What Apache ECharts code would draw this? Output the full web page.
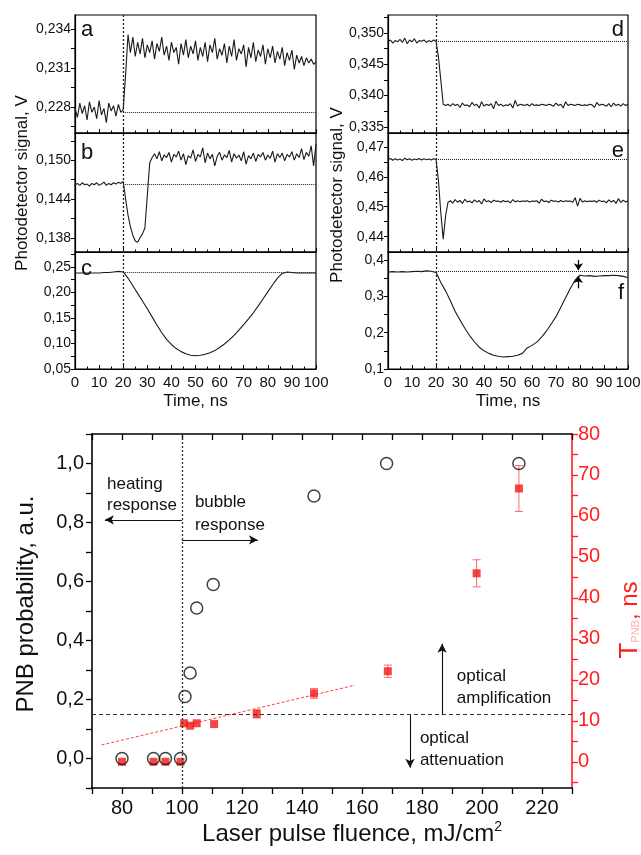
<!DOCTYPE html>
<html><head><meta charset="utf-8">
<script src="https://cdn.jsdelivr.net/npm/echarts@6/dist/echarts.min.js"></script>
<style>html,body{margin:0;padding:0;background:#fff}#c{width:641px;height:855px}</style>
</head><body><div id="c"></div><script>
// ---------- DATA ----------
const noisyStep = 1;   // ns between samples of traces a, b, d, e
const smoothStep = 2;  // ns between samples of traces c, f
const traceA = [0.2279,0.2272,0.2283,0.2275,0.2281,0.2270,0.2284,0.2276,0.2280,0.2271,0.2285,0.2274,0.2279,0.2268,0.2283,0.2277,0.2281,0.2273,0.2282,0.2276,
0.2278,0.2305,0.2336,
0.2322,0.2334,0.2319,0.2330,0.2321,0.2333,0.2318,0.2328,0.2322,0.2331,0.2317,0.2329,0.2323,0.2334,0.2320,0.2327,0.2316,0.2330,
0.2322,0.2326,0.2313,0.2329,0.2320,0.2332,0.2318,0.2327,0.2321,0.2331,0.2316,0.2326,0.2319,0.2330,0.2315,0.2328,0.2322,0.2333,0.2317,0.2325,
0.2320,0.2329,0.2314,0.2327,0.2319,0.2332,0.2316,0.2325,0.2321,0.2328,0.2311,0.2326,0.2318,0.2330,0.2315,0.2324,0.2319,0.2328,0.2313,0.2325,
0.2318,0.2327,0.2314,0.2323,0.2317,0.2326,0.2312,0.2322,0.2316,0.2324,0.2309,0.2320,0.2314,0.2319,0.2312,0.2318,0.2314,0.2317,0.2313,0.2315];
const traceB = [0.1462,0.1464,0.1461,0.1465,0.1462,0.1463,0.1460,0.1464,0.1462,0.1465,0.1461,0.1463,0.1466,0.1461,0.1464,0.1462,0.1465,0.1463,0.1466,0.1464,
0.1467,0.1440,0.1415,0.1397,0.1384,0.1375,0.1373,0.1380,0.1386,0.1395,0.1445,0.1496,0.1504,
0.1510,0.1502,0.1513,0.1499,0.1508,0.1504,0.1512,0.1497,0.1509,0.1505,0.1514,0.1500,0.1510,0.1493,0.1507,0.1503,0.1516,0.1498,0.1509,0.1505,
0.1519,0.1496,0.1511,0.1502,0.1509,0.1491,0.1506,0.1512,0.1500,0.1508,0.1504,0.1515,0.1497,0.1510,0.1503,0.1508,0.1499,0.1513,0.1494,0.1507,
0.1502,0.1511,0.1498,0.1509,0.1505,0.1512,0.1500,0.1508,0.1503,0.1514,0.1497,0.1510,0.1504,0.1511,0.1499,0.1509,0.1505,0.1513,0.1500,0.1510,
0.1504,0.1518,0.1501,0.1512,0.1506,0.1522,0.1491,0.1525];
const traceC = [0.238,0.238,0.238,0.238,0.238,0.238,0.239,0.239,0.240,0.241,0.240,0.228,0.213,0.198,0.183,0.168,0.152,0.136,0.121,0.108,
0.098,0.090,0.084,0.080,0.077,0.076,0.077,0.079,0.082,0.086,0.092,0.099,0.107,0.116,0.126,0.137,0.148,0.160,0.173,0.187,
0.201,0.215,0.228,0.237,0.240,0.239,0.238,0.238,0.238,0.238,0.238];
const traceD = [0.3486,0.3489,0.3484,0.3488,0.3486,0.3490,0.3485,0.3492,0.3483,0.3489,0.3486,0.3491,0.3484,0.3488,0.3487,0.3489,0.3485,0.3488,0.3486,0.3489,
0.3487,0.3462,0.3425,0.3386,
0.3384,0.3386,0.3383,0.3387,0.3384,0.3386,0.3381,0.3388,0.3384,0.3385,0.3382,0.3389,0.3384,0.3386,0.3380,0.3390,0.3383,0.3386,0.3384,0.3387,
0.3379,0.3391,0.3384,0.3386,0.3383,0.3385,0.3384,0.3387,0.3380,0.3392,0.3383,0.3386,0.3385,0.3384,0.3386,0.3383,0.3387,0.3384,0.3385,0.3384,
0.3386,0.3385,0.3384,0.3386,0.3385,0.3383,0.3388,0.3384,0.3386,0.3380,0.3390,0.3384,0.3386,0.3385,0.3384,0.3386,0.3385,0.3384,0.3385,0.3384,
0.3386,0.3385,0.3381,0.3389,0.3384,0.3386,0.3385,0.3383,0.3387,0.3382,0.3388,0.3384,0.3386,0.3383,0.3387,0.3384,0.3386];
const traceE = [0.4657,0.4661,0.4655,0.4660,0.4656,0.4659,0.4654,0.4662,0.4657,0.4660,0.4655,0.4659,0.4657,0.4661,0.4656,0.4660,0.4657,0.4659,0.4656,0.4660,
0.4658,0.4590,0.4480,0.4392,0.4470,0.4515,
0.4520,0.4512,0.4524,0.4515,0.4521,0.4511,0.4525,0.4516,0.4519,0.4513,0.4523,0.4516,0.4521,0.4509,0.4526,0.4517,0.4520,0.4514,0.4522,0.4518,
0.4519,0.4515,0.4521,0.4517,0.4519,0.4513,0.4524,0.4516,0.4520,0.4517,0.4519,0.4518,0.4520,0.4516,0.4519,0.4518,0.4520,0.4512,0.4525,0.4517,
0.4519,0.4514,0.4522,0.4518,0.4519,0.4516,0.4521,0.4517,0.4520,0.4518,0.4519,0.4515,0.4530,0.4502,0.4528,0.4516,0.4520,0.4517,0.4519,0.4518,
0.4520,0.4515,0.4522,0.4517,0.4519,0.4513,0.4523,0.4516,0.4521,0.4511,0.4527,0.4514,0.4522,0.4516,0.4520];
const traceF = [0.367,0.368,0.367,0.368,0.367,0.368,0.369,0.368,0.370,0.369,0.366,0.338,0.315,0.288,0.258,0.235,0.212,0.192,0.175,0.160,
0.150,0.143,0.138,0.135,0.133,0.134,0.135,0.138,0.143,0.158,0.165,0.174,0.188,0.204,0.224,0.244,0.270,0.296,0.322,0.345,
0.358,0.356,0.357,0.355,0.356,0.357,0.357,0.358,0.357,0.355,0.352];
// dotted reference levels of each panel (V)
const baseLevels = [0.2276, 0.1463, 0.240, 0.3487, 0.4658, 0.369];
const panelLetters = ['a','b','c','d','e','f'];
// panel f arrows (time, from V, to V)
const fArrowTime = 79.3;
const fArrowDown = [0.400, 0.372];
const fArrowUp = [0.322, 0.356];

// bottom chart
const fluenceProb = [80, 90.5, 94.5, 99.5, 101, 102.7, 104.9, 110.4, 144, 168.2, 212.3];
const pnbProb     = [0, 0, 0, 0, 0.21, 0.29, 0.51, 0.59, 0.89, 1.0, 1.0];
const fluenceT = [80, 90.5, 94.5, 99.5, 100.7, 102.7, 104.9, 110.7, 124.9, 144, 168.6, 198.2, 212.3];
const tPnb     = [0, 0, 0, 0, 9.4, 8.8, 9.4, 9.2, 11.7, 16.7, 22.1, 46.0, 66.7];
const tPnbErr  = [0, 0, 0, 0, 0, 0, 0, 0, 1.0, 1.2, 1.5, 3.3, 5.6];
const fitX = [73.2, 157.7];
const fitY = [4.1, 18.7];
const thresholdFluence = 100;
const thresholdProb = 0.147;
const xTickLabels = [80,100,120,140,160,180,200,220];
const rightTickLabels = [0,10,20,30,40,50,60,70,80];

// ---------- CHART ----------
const FONT = 'Liberation Sans, Arial, sans-serif';
const chart = echarts.init(document.getElementById('c'), null, {renderer:'canvas'});

const panelGrids = [
  {left:75, top:15, width:241, height:118},
  {left:75, top:133, width:241, height:119},
  {left:75, top:252, width:241, height:117},
  {left:388, top:15, width:240, height:118},
  {left:388, top:133, width:240, height:119},
  {left:388, top:252, width:240, height:117}
];
const panelY = [
  {min:0.2260, max:0.2351, labels:[0.228,0.231,0.234], ticks:[0.2265,0.228,0.2295,0.231,0.2325,0.234], dec:3},
  {min:0.1358, max:0.1542, labels:[0.138,0.144,0.150], ticks:[0.138,0.141,0.144,0.147,0.150,0.153], dec:3},
  {min:0.05, max:0.279, labels:[0.05,0.10,0.15,0.20,0.25], ticks:[0.05,0.075,0.10,0.125,0.15,0.175,0.20,0.225,0.25,0.275], dec:2},
  {min:0.334, max:0.3529, labels:[0.335,0.340,0.345,0.350], ticks:[0.335,0.3375,0.340,0.3425,0.345,0.3475,0.350,0.3525], dec:3},
  {min:0.4349, max:0.4746, labels:[0.44,0.45,0.46,0.47], ticks:[0.44,0.445,0.45,0.455,0.46,0.465,0.47], dec:2},
  {min:0.10, max:0.422, labels:[0.1,0.2,0.3,0.4], ticks:[0.1,0.15,0.2,0.25,0.3,0.35,0.4], dec:1}
];
const traces = [traceA, traceB, traceC, traceD, traceE, traceF];
const steps = [noisyStep, noisyStep, smoothStep, noisyStep, noisyStep, smoothStep];

const grids = panelGrids.map(g => Object.assign({show:true, borderColor:'#000', borderWidth:1.2, backgroundColor:'transparent', containLabel:false, outerBoundsMode:'none'}, g));
grids.push({left:92, top:434, width:480, height:354, containLabel:false, outerBoundsMode:'none', show:false});

const xAxes = panelGrids.map((g,i) => ({
  type:'value', gridIndex:i, min:0, max:100, interval:10,
  axisLine:{show:true, onZero:false, lineStyle:{color:'#000', width:1.2}},
  axisTick:{show:true, inside:true, length:4, lineStyle:{color:'#000', width:1}},
  minorTick:{show:true, splitNumber:2, length:2.5, lineStyle:{color:'#000'}},
  axisLabel:{show:(i===2||i===5), fontSize:15, color:'#111', fontFamily:FONT, margin:6},
  splitLine:{show:false}, minorSplitLine:{show:false},
  name:(i===2||i===5)?'Time, ns':'', nameLocation:'middle', nameGap:24,
  nameTextStyle:{fontSize:17, color:'#111', fontFamily:FONT}
}));
xAxes.push({
  type:'value', gridIndex:6, min:70, max:230, interval:10, position:'bottom',
  axisLine:{show:true, onZero:false, lineStyle:{color:'#000', width:1.6}},
  axisTick:{show:true, inside:false, length:6, lineStyle:{color:'#000', width:1.3}},
  axisLabel:{fontSize:20, color:'#111', fontFamily:FONT, margin:10,
    formatter:v => xTickLabels.indexOf(v) >= 0 ? String(v) : ''},
  splitLine:{show:false}
});
xAxes.push({
  type:'value', gridIndex:6, min:70, max:230, interval:10, position:'top',
  axisLine:{show:true, onZero:false, lineStyle:{color:'#000', width:1.6}},
  axisTick:{show:true, inside:true, length:6, lineStyle:{color:'#000', width:1.3}},
  axisLabel:{show:false}, splitLine:{show:false}
});

const yAxes = panelY.map((p,i) => ({
  type:'value', gridIndex:i, min:p.min, max:p.max,
  axisLine:{show:true, onZero:false, lineStyle:{color:'#000', width:1.2}},
  axisTick:{show:true, inside:false, length:4, customValues:p.ticks, lineStyle:{color:'#000'}},
  axisLabel:{fontSize:14, color:'#111', fontFamily:FONT, margin:4, customValues:p.labels,
    formatter:v => v.toFixed(p.dec).replace('.', ',')},
  splitLine:{show:false}
}));
yAxes.push({
  type:'value', gridIndex:6, min:-0.1, max:1.1, interval:0.1, position:'left',
  axisLine:{show:true, onZero:false, lineStyle:{color:'#000', width:1.6}},
  axisTick:{show:true, inside:false, length:6, lineStyle:{color:'#000', width:1.3}},
  axisLabel:{fontSize:20, color:'#111', fontFamily:FONT, margin:8,
    formatter:v => { const r = Math.round(v*10); return (r%2===0 && r>=0 && r<=10) ? (r/10).toFixed(1).replace('.', ',') : ''; }},
  splitLine:{show:false}
});
yAxes.push({
  type:'value', gridIndex:6, min:-6.4, max:80, position:'right',
  axisLine:{show:true, onZero:false, lineStyle:{color:'#ff1f1f', width:1.6}},
  axisTick:{show:true, inside:false, length:6, customValues:[-5,0,5,10,15,20,25,30,35,40,45,50,55,60,65,70,75,80], lineStyle:{color:'#ff1f1f', width:1.3}},
  axisLabel:{fontSize:20, color:'#ff1f1f', fontFamily:FONT, margin:6, customValues:rightTickLabels},
  splitLine:{show:false}
});

const series = traces.map((tr,i) => ({
  type:'line', xAxisIndex:i, yAxisIndex:i, showSymbol:false, symbol:'none', sampling:null,
  data: tr.map((v,k) => [k*steps[i], v]),
  lineStyle:{color:'#1a1a1a', width:1.1}, z:3,
  markLine:{silent:true, symbol:'none', label:{show:false},
    lineStyle:{type:'dotted', color:'#222', width:1},
    data:[{xAxis:20, lineStyle:{type:[2,2], width:1.3}}, [{coord:[20, baseLevels[i]]},{coord:[100, baseLevels[i]]}]]}
}));
// arrows in panel f
series.push({type:'line', xAxisIndex:5, yAxisIndex:5, data:[],
  markLine:{silent:true, symbol:['none','arrow'], symbolSize:7, label:{show:false},
    lineStyle:{type:'solid', color:'#000', width:1.3},
    data:[[{coord:[fArrowTime, fArrowDown[0]]},{coord:[fArrowTime, fArrowDown[1]]}],
          [{coord:[fArrowTime, fArrowUp[0]]},{coord:[fArrowTime, fArrowUp[1]]}]]}});

// bottom chart series
series.push({type:'line', xAxisIndex:6, yAxisIndex:6, data:[],
  markLine:{silent:true, symbol:'none', label:{show:false},
    data:[{yAxis:thresholdProb, lineStyle:{type:[4,3], color:'#333', width:1}},
          {xAxis:thresholdFluence, lineStyle:{type:[2,2], color:'#333', width:1.3}}]}});
series.push({type:'line', xAxisIndex:6, yAxisIndex:6, data:[],
  markLine:{silent:true, symbol:['none','arrow'], symbolSize:[7,9], label:{show:false},
    lineStyle:{type:'solid', color:'#111', width:1.1},
    data:[[{coord:[100,0.809]},{coord:[74.3,0.809]}],
          [{coord:[100,0.741]},{coord:[125.3,0.741]}],
          [{coord:[186.7,0.147]},{coord:[186.7,0.389]}],
          [{coord:[176,0.147]},{coord:[176,-0.031]}]]}});
series.push({type:'line', xAxisIndex:6, yAxisIndex:7, showSymbol:false, symbol:'none',
  data: fitX.map((x,i) => [x, fitY[i]]),
  lineStyle:{color:'#ff4040', width:1, type:[3,2]}, z:2});
series.push({type:'custom', xAxisIndex:6, yAxisIndex:7,
  data: fluenceT.map((x,i) => [x, tPnb[i], tPnbErr[i]]).filter(d => d[2] > 0),
  renderItem:(params, api) => {
    const x = api.value(0), y = api.value(1), e = api.value(2);
    const t = api.coord([x, y+e]), b = api.coord([x, y-e]);
    const w = 4, st = {stroke:'#ff6a6a', lineWidth:1};
    return {type:'group', children:[
      {type:'line', shape:{x1:t[0], y1:t[1], x2:b[0], y2:b[1]}, style:st},
      {type:'line', shape:{x1:t[0]-w, y1:t[1], x2:t[0]+w, y2:t[1]}, style:st},
      {type:'line', shape:{x1:b[0]-w, y1:b[1], x2:b[0]+w, y2:b[1]}, style:st}
    ]};
  }, z:3});
series.push({type:'scatter', xAxisIndex:6, yAxisIndex:7, symbol:'rect', symbolSize:8,
  data: fluenceT.map((x,i) => [x, tPnb[i]]), itemStyle:{color:'#f01818'}, z:4});
series.push({type:'scatter', xAxisIndex:6, yAxisIndex:6, symbol:'circle', symbolSize:12,
  data: fluenceProb.map((x,i) => [x, pnbProb[i]]),
  itemStyle:{color:'rgba(255,255,255,0)', borderColor:'#111', borderWidth:1.5}, z:5});

chart.setOption({animation:false, backgroundColor:'#fff', grid:grids, xAxis:xAxes, yAxis:yAxes, series:series});

// ---------- TEXT ANNOTATIONS ----------
const txt = (x, y, text, opt) => Object.assign({type:'text', x:x, y:y, silent:true,
  style:Object.assign({text:text, fill:'#111', fontFamily:FONT, fontSize:16, align:'left', verticalAlign:'middle'}, opt||{})});
const toPx = (pt) => chart.convertToPixel({xAxisIndex:6, yAxisIndex:6}, pt);
const notes = [
  [[75, 0.931], 'heating'], [[75, 0.857], 'response'],
  [[104.3, 0.867], 'bubble'], [[104.3, 0.789], 'response'],
  [[191.6, 0.280], 'optical'], [[191.6, 0.2025], 'amplification'],
  [[179.3, 0.0668], 'optical'], [[179.3, -0.0078], 'attenuation']
];
const graphics = notes.map(n => { const p = toPx(n[0]); return txt(p[0], p[1], n[1], {fontSize:17}); });
// panel letters
const letterPos = [[81,30,'left'],[81,153,'left'],[81,269,'left'],[624,30,'right'],[624,151,'right'],[624,293,'right']];
letterPos.forEach((lp,i) => graphics.push(txt(lp[0], lp[1], panelLetters[i], {fontSize:22, align:lp[2]})));
// axis titles
graphics.push(txt(22, 183, 'Photodetector signal, V', {fontSize:17, align:'center'}));
graphics[graphics.length-1].rotation = Math.PI/2;
graphics.push(txt(337, 195, 'Photodetector signal, V', {fontSize:17, align:'center'}));
graphics[graphics.length-1].rotation = Math.PI/2;
graphics.push(txt(26, 604, 'PNB probability, a.u.', {fontSize:24, align:'center'}));
graphics[graphics.length-1].rotation = Math.PI/2;
graphics.push(txt(352, 834, '{a|Laser pulse fluence, mJ/cm}{s|2}', {align:'center',
  rich:{a:{fontSize:24, fontFamily:FONT, fill:'#111'}, s:{fontSize:14, fontFamily:FONT, fill:'#111', padding:[0,0,14,0]}}}));
const tt = txt(630, 620, '{t|T}{s|PNB}{n|, ns}', {align:'center', fill:'#ff1f1f',
  rich:{t:{fontSize:26, fontFamily:FONT, fill:'#ff1f1f'}, s:{fontSize:11, fontFamily:FONT, fill:'#ffb0b0', padding:[12,0,0,0]}, n:{fontSize:24, fontFamily:FONT, fill:'#ff1f1f'}}});
tt.rotation = Math.PI/2;
graphics.push(tt);
chart.setOption({graphic:graphics});
</script></body></html>
